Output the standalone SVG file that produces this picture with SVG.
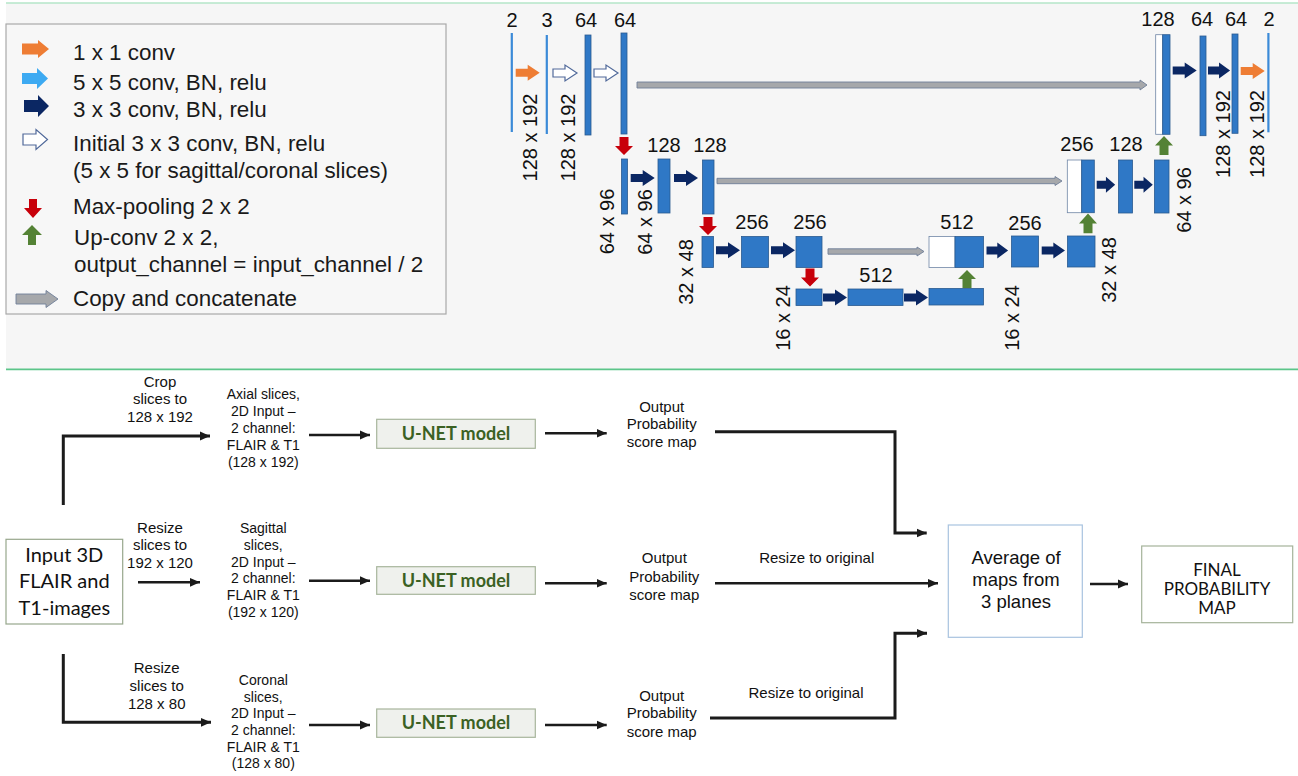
<svg xmlns="http://www.w3.org/2000/svg" xmlns:xlink="http://www.w3.org/1999/xlink" width="1298" height="776" viewBox="0 0 1298 776">
<style>
.leg{font-family:"Liberation Sans",Arial,sans-serif;font-size:22.4px;fill:#1a1a1a}
.dim{font-family:"Liberation Sans",Arial,sans-serif;font-size:20px;fill:#111;text-anchor:middle}
.sm{font-family:"Liberation Sans",Arial,sans-serif;font-size:15px;fill:#111;text-anchor:middle}
.xs{font-family:"Liberation Sans",Arial,sans-serif;font-size:14px;fill:#111;text-anchor:middle}
.cal{font-family:Lato,"Open Sans",sans-serif;fill:#111;text-anchor:middle}
.bar{fill:#2f78c6;stroke:#2a5a90;stroke-width:0.8}
.thin{fill:#3b8ad8}
.wht{fill:#fff;stroke:#6f86a6;stroke-width:0.8}
.nav{fill:#0b2763}
.org{fill:#ee7d34}
.red{fill:#c8000a}
.grn{fill:#548235}
.outl{fill:#fff;stroke:#50699a;stroke-width:1.2}
.copy{fill:#a6a8ab;stroke:#6f7f99;stroke-width:0.9}
.ln{fill:none;stroke:#1b1b1b;stroke-width:2.6}
.lnT{fill:none;stroke:#1b1b1b;stroke-width:3}
</style>
<defs>
<path id="aR" d="M0,-4 H12 V-8 L24,0 L12,8 V4 H0 Z"/>
<path id="aD" d="M-4.5,0 H4.5 V9 H9 L0,18 L-9,9 H-4.5 Z"/>
<path id="aU" d="M-4.5,0 H4.5 V-9 H9 L0,-18 L-9,-9 H-4.5 Z"/>
<marker id="ah" markerUnits="userSpaceOnUse" markerWidth="12" markerHeight="10" refX="10" refY="5" orient="auto">
<path d="M0,0.6 L10,5 L0,9.4 Z" fill="#1b1b1b"/>
</marker>
</defs>
<rect x="0" y="0" width="1298" height="776" fill="#fff"/>
<g id="top-panel">
<rect x="6" y="3" width="1292" height="366" fill="#f6f6f6"/>
<line x1="6" y1="3" x2="1298" y2="3" stroke="#b4e6c8" stroke-width="1.5"/>
<line x1="6" y1="369.3" x2="1298" y2="369.3" stroke="#5cc58a" stroke-width="1.8"/>
</g>
<g id="legend">
<rect x="6" y="24" width="440" height="290" fill="#f7f7f7" stroke="#a9a9a9" stroke-width="1.2"/>
<path class="org" d="M22,43.5 H38 V40 L49,49 L38,58 V54.5 H22 Z"/>
<text class="leg" x="73" y="60">1 x 1 conv</text>
<path fill="#3daaf2" d="M22,73 H37 V68 L48,78.5 L37,89 V84 H22 Z"/>
<text class="leg" x="73" y="90">5 x 5 conv, BN, relu</text>
<path class="nav" d="M24,100 H38 V95 L49,106 L38,117 V112 H24 Z"/>
<text class="leg" x="73" y="117">3 x 3 conv, BN, relu</text>
<path class="outl" d="M23,134 H36 V129.5 L47.5,139.5 L36,149.5 V145 H23 Z"/>
<text class="leg" x="73" y="151">Initial 3 x 3 conv, BN, relu</text>
<text class="leg" x="73" y="178">(5 x 5 for sagittal/coronal slices)</text>
<path class="red" d="M29,199 H37 V208 H42 L33,218 L24,208 H29 Z"/>
<text class="leg" x="73" y="214">Max-pooling 2 x 2</text>
<path class="grn" d="M28,245 H36 V235 H42 L32,225 L22,235 H28 Z"/>
<text class="leg" x="74" y="245">Up-conv 2 x 2,</text>
<text class="leg" x="74" y="272">output_channel = input_channel / 2</text>
<path class="copy" d="M16,294 H46 V290.5 L58,299 L46,307.5 V304 H16 Z"/>
<text class="leg" x="73" y="306">Copy and concatenate</text>
</g>
<g id="unet">
<g id="unet-blocks">
<rect class="thin" x="510.7" y="33" width="2.2" height="99"/>
<rect class="thin" x="545.7" y="35" width="2.2" height="99"/>
<rect class="bar" x="585" y="35" width="6" height="100"/>
<rect class="bar" x="621" y="33" width="6" height="101"/>
<rect class="bar" x="621.5" y="159" width="6" height="55"/>
<rect class="bar" x="658" y="159" width="12" height="54"/>
<rect class="bar" x="702.5" y="160" width="11.5" height="54"/>
<rect class="bar" x="702" y="236.5" width="11.5" height="31"/>
<rect class="bar" x="741.5" y="236.5" width="27" height="31"/>
<rect class="bar" x="796" y="236.5" width="26" height="31"/>
<rect class="bar" x="796" y="289" width="26" height="16.5"/>
<rect class="bar" x="848" y="289" width="55" height="16.5"/>
<rect class="bar" x="929" y="288.5" width="54.5" height="16.5"/>
<rect class="wht" x="929" y="236.5" width="26" height="31"/>
<rect class="bar" x="955" y="236.5" width="28.5" height="31"/>
<rect class="bar" x="1011.5" y="236" width="27" height="31"/>
<rect class="bar" x="1067.5" y="236" width="27.5" height="31"/>
<rect class="wht" x="1067.3" y="160" width="14.4" height="52.7"/>
<rect class="bar" x="1081.7" y="160" width="12.6" height="52.7"/>
<rect class="bar" x="1118.5" y="160" width="14" height="53"/>
<rect class="bar" x="1154.5" y="160" width="14.5" height="53"/>
<rect class="wht" x="1155.7" y="34.7" width="7" height="99.6"/>
<rect class="bar" x="1162.7" y="34.7" width="7.3" height="99.6"/>
<rect class="bar" x="1200" y="36" width="6" height="99.7"/>
<rect class="bar" x="1232" y="34" width="6" height="99.3"/>
<rect class="thin" x="1267.3" y="33" width="2.2" height="99.3"/>
</g>
<g id="unet-arrows">
<use href="#aR" class="org" transform="translate(515.7,72.8)"/>
<use href="#aR" class="outl" transform="translate(553,73)"/>
<use href="#aR" class="outl" transform="translate(594,73)"/>
<use href="#aR" class="nav" transform="translate(630.7,178)"/>
<use href="#aR" class="nav" transform="translate(674,178)"/>
<use href="#aR" class="nav" transform="translate(716,250.3)"/>
<use href="#aR" class="nav" transform="translate(771,250.3)"/>
<use href="#aR" class="nav" transform="translate(823,297.5)"/>
<use href="#aR" class="nav" transform="translate(904,297.5)"/>
<use href="#aR" class="nav" transform="translate(986.5,250.5) scale(0.9,1)"/>
<use href="#aR" class="nav" transform="translate(1041.7,250.5) scale(0.97,1)"/>
<use href="#aR" class="nav" transform="translate(1096.7,184.7) scale(0.77,1)"/>
<use href="#aR" class="nav" transform="translate(1134.3,184.7) scale(0.77,1)"/>
<use href="#aR" class="nav" transform="translate(1172.7,70.4)"/>
<use href="#aR" class="nav" transform="translate(1208,70.4) scale(0.92,1)"/>
<use href="#aR" class="org" transform="translate(1240.7,71)"/>
<use href="#aD" class="red" transform="translate(624,137)"/>
<use href="#aD" class="red" transform="translate(708,217)"/>
<use href="#aD" class="red" transform="translate(810,268.5)"/>
<use href="#aU" class="grn" transform="translate(967,288)"/>
<use href="#aU" class="grn" transform="translate(1088,233.3) scale(1,1.1)"/>
<use href="#aU" class="grn" transform="translate(1164,155) scale(1,1.05)"/>
<path class="copy" d="M637,82 H1140 V80 L1147,85 L1140,90 V88 H637 Z"/>
<path class="copy" d="M717,178.3 H1055 V176.5 L1062,181 L1055,185.5 V183.7 H717 Z"/>
<path class="copy" d="M828,248.8 H917 V247 L924,251.5 L917,256 V254.2 H828 Z"/>
</g>
<g id="unet-labels">
<text class="dim" x="512" y="27">2</text>
<text class="dim" x="547" y="27">3</text>
<text class="dim" x="586" y="27">64</text>
<text class="dim" x="625" y="27">64</text>
<text class="dim" x="664" y="152">128</text>
<text class="dim" x="710" y="152">128</text>
<text class="dim" x="752" y="229">256</text>
<text class="dim" x="810" y="229">256</text>
<text class="dim" x="957" y="229">512</text>
<text class="dim" x="876" y="282">512</text>
<text class="dim" x="1025" y="230">256</text>
<text class="dim" x="1077" y="151">256</text>
<text class="dim" x="1126" y="151">128</text>
<text class="dim" x="1158" y="26">128</text>
<text class="dim" x="1202" y="26">64</text>
<text class="dim" x="1236" y="26">64</text>
<text class="dim" x="1269" y="26">2</text>
<text class="dim" transform="translate(536.5,137.5) rotate(-90)">128 x 192</text>
<text class="dim" transform="translate(575,137.5) rotate(-90)">128 x 192</text>
<text class="dim" transform="translate(614,221.5) rotate(-90)">64 x 96</text>
<text class="dim" transform="translate(652,222) rotate(-90)">64 x 96</text>
<text class="dim" transform="translate(693,272) rotate(-90)">32 x 48</text>
<text class="dim" transform="translate(790,318) rotate(-90)">16 x 24</text>
<text class="dim" transform="translate(1019,318) rotate(-90)">16 x 24</text>
<text class="dim" transform="translate(1116,270) rotate(-90)">32 x 48</text>
<text class="dim" transform="translate(1191,200) rotate(-90)">64 x 96</text>
<text class="dim" transform="translate(1230,134) rotate(-90)">128 x 192</text>
<text class="dim" transform="translate(1264,134) rotate(-90)">128 x 192</text>
</g>
</g>
<g id="connectors">
<path class="lnT" d="M63.3,505 V436 H210" marker-end="url(#ah)"/>
<path class="ln" d="M138,582.3 H200" marker-end="url(#ah)"/>
<path class="lnT" d="M63.3,654 V722.3 H211" marker-end="url(#ah)"/>
<path class="ln" d="M309,435 H370" marker-end="url(#ah)"/>
<path class="ln" d="M309,580.7 H370" marker-end="url(#ah)"/>
<path class="ln" d="M309,725 H370" marker-end="url(#ah)"/>
<path class="ln" d="M545,433.3 H606.7" marker-end="url(#ah)"/>
<path class="ln" d="M545,583.3 H606.7" marker-end="url(#ah)"/>
<path class="ln" d="M545,725 H606.7" marker-end="url(#ah)"/>
<path class="lnT" d="M715,431.7 H895 V533 H926.7" marker-end="url(#ah)"/>
<path class="ln" d="M715,583.3 H938" marker-end="url(#ah)"/>
<path class="lnT" d="M710,718 H895 V633.3 H927" marker-end="url(#ah)"/>
<path class="ln" d="M1090,584 H1128" marker-end="url(#ah)"/>
</g>
<g id="edge-labels">
<text class="sm" x="160" y="386.7">Crop</text>
<text class="sm" x="160" y="404">slices to</text>
<text class="sm" x="160" y="421.7">128 x 192</text>
<text class="sm" x="160" y="532.7">Resize</text>
<text class="sm" x="160" y="550">slices to</text>
<text class="sm" x="160" y="568.3">192 x 120</text>
<text class="sm" x="156.7" y="672.7">Resize</text>
<text class="sm" x="156.7" y="690.7">slices to</text>
<text class="sm" x="156.7" y="709.3">128 x 80</text>
<text class="sm" x="816.7" y="562.7">Resize to original</text>
<text class="sm" x="806" y="698.3">Resize to original</text>
</g>
<g id="input">
<rect x="6" y="539.3" width="116.7" height="84.7" fill="#fff" stroke="#97a78c" stroke-width="1.2"/>
<text class="cal" font-size="20" x="64.3" y="561.7">Input 3D</text>
<text class="cal" font-size="20" x="64.3" y="588.3">FLAIR and</text>
<text class="cal" font-size="20" x="64.3" y="615">T1-images</text>
</g>
<g id="axial-input">
<text class="xs" x="263.3" y="399.3">Axial slices,</text>
<text class="xs" x="263.3" y="416">2D Input –</text>
<text class="xs" x="263.3" y="433.3">2 channel:</text>
<text class="xs" x="263.3" y="450">FLAIR &amp; T1</text>
<text class="xs" x="263.3" y="466.7">(128 x 192)</text>
</g>
<g id="sagittal-input">
<text class="xs" x="263.3" y="533.3">Sagittal</text>
<text class="xs" x="263.3" y="550">slices,</text>
<text class="xs" x="263.3" y="566.7">2D Input –</text>
<text class="xs" x="263.3" y="583.3">2 channel:</text>
<text class="xs" x="263.3" y="600">FLAIR &amp; T1</text>
<text class="xs" x="263.3" y="617">(192 x 120)</text>
</g>
<g id="coronal-input">
<text class="xs" x="263.3" y="685">Coronal</text>
<text class="xs" x="263.3" y="701.7">slices,</text>
<text class="xs" x="263.3" y="718.3">2D Input –</text>
<text class="xs" x="263.3" y="735">2 channel:</text>
<text class="xs" x="263.3" y="751.7">FLAIR &amp; T1</text>
<text class="xs" x="263.3" y="768.3">(128 x 80)</text>
</g>
<g id="unet-axial">
<rect x="376.7" y="419.3" width="158.6" height="29" fill="#eff1ed" stroke="#a7b59c" stroke-width="1.2"/>
<text class="cal" font-size="18" font-weight="bold" style="fill:#3b6123" x="456" y="440">U-NET model</text>
</g>
<g id="unet-sagittal">
<rect x="376.7" y="566.7" width="158.6" height="27.6" fill="#eff1ed" stroke="#a7b59c" stroke-width="1.2"/>
<text class="cal" font-size="18" font-weight="bold" style="fill:#3b6123" x="456" y="586.7">U-NET model</text>
</g>
<g id="unet-coronal">
<rect x="376.7" y="709" width="158.6" height="28.3" fill="#eff1ed" stroke="#a7b59c" stroke-width="1.2"/>
<text class="cal" font-size="18" font-weight="bold" style="fill:#3b6123" x="456" y="729.3">U-NET model</text>
</g>
<g id="output-axial">
<text class="sm" x="661.7" y="411.7">Output</text>
<text class="sm" x="661.7" y="429.3">Probability</text>
<text class="sm" x="661.7" y="447.3">score map</text>
</g>
<g id="output-sagittal">
<text class="sm" x="664.3" y="563.3">Output</text>
<text class="sm" x="664.3" y="581.7">Probability</text>
<text class="sm" x="664.3" y="600">score map</text>
</g>
<g id="output-coronal">
<text class="sm" x="661.7" y="700.7">Output</text>
<text class="sm" x="661.7" y="718.3">Probability</text>
<text class="sm" x="661.7" y="736.7">score map</text>
</g>
<g id="average">
<rect x="948.3" y="525" width="134" height="112.3" fill="#fff" stroke="#a8c3df" stroke-width="1.2"/>
<text class="sm" style="font-size:18.5px" x="1016" y="564">Average of</text>
<text class="sm" style="font-size:18.5px" x="1016" y="586">maps from</text>
<text class="sm" style="font-size:18.5px" x="1016" y="608.3">3 planes</text>
</g>
<g id="final">
<rect x="1141.7" y="546" width="151" height="76.7" fill="#fff" stroke="#a5b39a" stroke-width="1.2"/>
<text class="cal" font-size="17" x="1217" y="575.6">FINAL</text>
<text class="cal" font-size="17" x="1217" y="594.8">PROBABILITY</text>
<text class="cal" font-size="17" x="1217" y="614">MAP</text>
</g>
</svg>
